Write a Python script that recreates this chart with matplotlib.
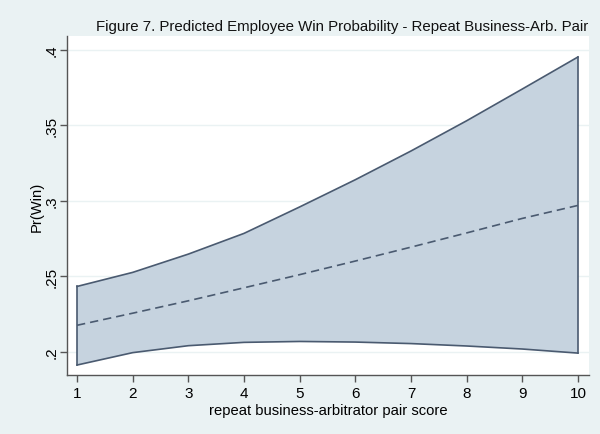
import matplotlib
matplotlib.use("Agg")
import matplotlib.pyplot as plt

x = [1, 2, 3, 4, 5, 6, 7, 8, 9, 10]
pr_win = [0.2177, 0.2257, 0.2339, 0.2425, 0.2512, 0.2602, 0.2694, 0.2788, 0.2884, 0.2970]
upper = [0.2434, 0.2527, 0.2648, 0.2785, 0.2960, 0.3140, 0.3330, 0.3530, 0.3740, 0.3952]
lower = [0.1914, 0.1996, 0.2042, 0.2064, 0.2070, 0.2066, 0.2056, 0.2040, 0.2020, 0.1993]
yticks = [0.2, 0.25, 0.3, 0.35, 0.4]
ytick_labels = [".2", ".25", ".3", ".35", ".4"]

plt.rcParams['font.family'] = ['Liberation Sans', 'DejaVu Sans']

bg = '#eaf2f3'
fig = plt.figure(figsize=(6.0, 4.35), dpi=100, facecolor=bg)
ax = fig.add_axes([0.1117, 0.1356, 0.87, 0.779])
ax.set_facecolor('white')

for yt in yticks:
    ax.axhline(yt, color='#eaf2f3', lw=1.0, zorder=0)

ax.fill_between(x, lower, upper, facecolor='#c6d3df', edgecolor='none', zorder=1)
ax.plot(x, upper, color='#4a5a70', lw=1.2, zorder=2)
ax.plot(x, lower, color='#4a5a70', lw=1.2, zorder=2)
ax.plot([x[0], x[0]], [lower[0], upper[0]], color='#4a5a70', lw=1.2, zorder=2)
ax.plot([x[-1], x[-1]], [lower[-1], upper[-1]], color='#4a5a70', lw=1.2, zorder=2)
ax.plot(x, pr_win, color='#4a5a70', lw=1.2, ls=(0, (5, 3)), zorder=3)

ax.set_xlim(0.82, 10.2)
ax.set_ylim(0.1848, 0.409)
ax.set_xticks(x)
ax.set_xticklabels([str(v) for v in x], fontsize=11)
ax.set_yticks(yticks)
ax.set_yticklabels(ytick_labels, fontsize=11, rotation=90, va='center')

for s in ['top', 'right']:
    ax.spines[s].set_visible(False)
for s in ['left', 'bottom']:
    ax.spines[s].set_color('#555555')
    ax.spines[s].set_linewidth(1.0)
ax.tick_params(direction='out', length=5, color='#555555', width=1.0)
ax.tick_params(axis='x', pad=3)
ax.tick_params(axis='y', pad=1)

ax.set_xlabel('repeat business-arbitrator pair score', fontsize=10.6, labelpad=2)
ax.set_ylabel('Pr(Win)', fontsize=10.6, labelpad=1)
fig.text(0.98, 0.938, 'Figure 7. Predicted Employee Win Probability - Repeat Business-Arb. Pair',
         ha='right', va='center', fontsize=10.8, color='#111111')

fig.savefig('out.png', dpi=100, facecolor=bg)
